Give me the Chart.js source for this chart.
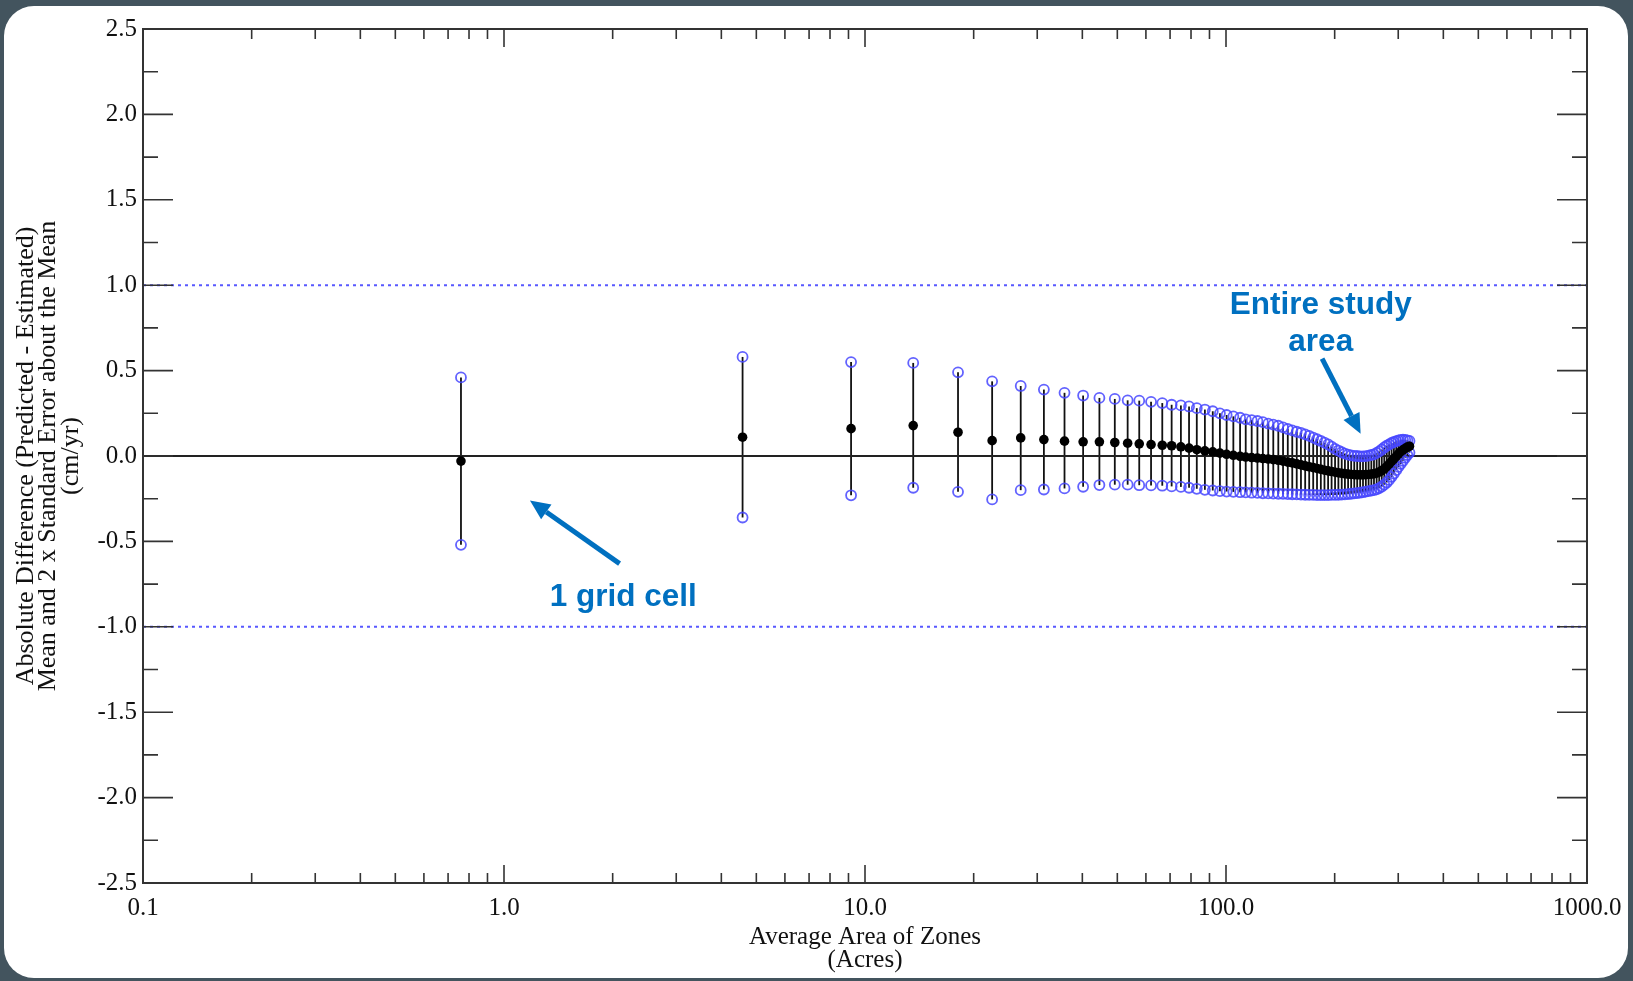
<!DOCTYPE html>
<html>
<head>
<meta charset="utf-8">
<script src="https://cdn.jsdelivr.net/npm/chart.js@4.4.1/dist/chart.umd.min.js"></script>
<style>
  html, body { margin: 0; padding: 0; width: 1633px; height: 981px; overflow: hidden; background: #43545e; }
  #card { position: absolute; left: 4px; top: 6px; width: 1624px; height: 972px; background: #fff; border-radius: 30px; }
  #chart { position: absolute; left: 0; top: 0; }
</style>
</head>
<body>
<div id="card"></div>
<canvas id="chart" width="1633" height="981"></canvas>
<script>
// average zone area (acres)
const areas = [
  0.76, 4.58, 9.15, 13.6, 18.1, 22.5, 27.0, 31.3, 35.7, 40.2,
  44.6, 49.2, 53.4, 57.5, 62.0, 66.6, 70.7, 75.0, 79.0, 83.0,
  87.4, 91.9, 96.2, 100.4, 104.8, 109.4, 113.4, 117.8, 122.2, 126.5,
  130.9, 135.2, 139.6, 143.9, 148.3, 152.6, 157.0, 161.3, 165.7, 170.0,
  174.4, 178.7, 183.1, 187.4, 191.8, 196.1, 200.5, 204.8, 209.2, 213.5,
  217.9, 222.2, 226.6, 230.9, 235.3, 239.6, 244.0, 248.3, 252.7, 257.0,
  261.4, 265.7, 270.1, 274.4, 278.8, 283.1, 287.5, 291.8, 296.2, 300.5,
  304.9, 309.2, 313.6, 317.9, 322.3
];
// mean absolute difference (cm/yr)
const meanDiff = [
  -0.03, 0.11, 0.16, 0.178, 0.139, 0.09, 0.106, 0.096, 0.087, 0.083,
  0.083, 0.079, 0.075, 0.071, 0.067, 0.063, 0.06, 0.054, 0.046, 0.037,
  0.03, 0.024, 0.017, 0.01, 0.004, -0.002, -0.006, -0.009, -0.012, -0.015,
  -0.018, -0.021, -0.025, -0.03, -0.036, -0.04, -0.046, -0.052, -0.058, -0.063,
  -0.068, -0.073, -0.078, -0.083, -0.087, -0.091, -0.095, -0.098, -0.101, -0.104,
  -0.106, -0.108, -0.109, -0.11, -0.11, -0.11, -0.109, -0.108, -0.106, -0.104,
  -0.1, -0.094, -0.085, -0.075, -0.062, -0.048, -0.032, -0.017, -0.002, 0.012,
  0.025, 0.036, 0.045, 0.052, 0.057
];
// mean + 2 x standard error
const upper2se = [
  0.46, 0.58, 0.55, 0.545, 0.49, 0.437, 0.41, 0.389, 0.37, 0.354,
  0.34, 0.334, 0.326, 0.324, 0.317, 0.31, 0.30, 0.296, 0.29, 0.28,
  0.272, 0.262, 0.25, 0.24, 0.232, 0.224, 0.215, 0.21, 0.205, 0.198,
  0.19, 0.184, 0.177, 0.168, 0.158, 0.15, 0.142, 0.135, 0.127, 0.118,
  0.108, 0.098, 0.088, 0.078, 0.068, 0.055, 0.042, 0.032, 0.022, 0.014,
  0.008, 0.004, 0.001, 0.0, -0.002, -0.002, -0.001, 0.002, 0.006, 0.01,
  0.018, 0.027, 0.038, 0.05, 0.06, 0.068, 0.076, 0.082, 0.087, 0.091,
  0.094, 0.095, 0.094, 0.092, 0.088
];
// mean - 2 x standard error
const lower2se = [
  -0.52, -0.36, -0.23, -0.186, -0.21, -0.254, -0.20, -0.196, -0.19, -0.18,
  -0.17, -0.168, -0.168, -0.171, -0.172, -0.174, -0.178, -0.181, -0.186, -0.192,
  -0.198, -0.202, -0.206, -0.208, -0.21, -0.212, -0.213, -0.215, -0.216, -0.218,
  -0.219, -0.22, -0.221, -0.222, -0.223, -0.224, -0.225, -0.226, -0.227, -0.228,
  -0.228, -0.229, -0.229, -0.229, -0.229, -0.228, -0.228, -0.227, -0.226, -0.225,
  -0.223, -0.221, -0.219, -0.217, -0.215, -0.212, -0.209, -0.206, -0.203, -0.2,
  -0.195, -0.188, -0.179, -0.168, -0.155, -0.14, -0.122, -0.103, -0.083, -0.064,
  -0.046, -0.028, -0.01, 0.006, 0.02
];

const xTickValues = [0.1, 1, 10, 100, 1000];
const xMinorTicks = [0.2, 0.3, 0.4, 0.5, 0.6, 0.7, 0.8, 0.9, 2, 3, 4, 5, 6, 7, 8, 9,
  20, 30, 40, 50, 60, 70, 80, 90, 200, 300, 400, 500, 600, 700, 800, 900];
const yTickValues = [-2.5, -2.0, -1.5, -1.0, -0.5, 0.0, 0.5, 1.0, 1.5, 2.0, 2.5];
const yMinorTicks = [-2.25, -1.75, -1.25, -0.75, -0.25, 0.25, 0.75, 1.25, 1.75, 2.25];
const refLevels = [1.0, -1.0];
const zeroLevel = 0.0;

const yTitle = ['Absolute Difference (Predicted - Estimated)', 'Mean and 2 x Standard Error about the Mean', '(cm/yr)'];
const xTitle = ['Average Area of Zones', '(Acres)'];

// annotations, anchored in data units
const notes = [
  { lines: ['1 grid cell'], x: 2.14, y: [-0.83], from: [2.09, -0.63], to: [1.18, -0.26] },
  { lines: ['Entire study', 'area'], x: 183, y: [0.885, 0.665], from: [184.6, 0.57], to: [236, 0.13] }
];

const serif = "'Liberation Serif', 'Times New Roman', serif";
const blue = 'rgba(70, 70, 255, 0.85)';

const pts = (ys) => areas.map((a, i) => ({ x: a, y: ys[i] }));
const hLine = (lv) => [{ x: xTickValues[0], y: lv }, { x: xTickValues[xTickValues.length - 1], y: lv }];

const errorBars = {
  id: 'errorBars',
  beforeDatasetsDraw(chart) {
    const { ctx, chartArea, scales: { x, y } } = chart;
    ctx.save();
    ctx.beginPath();
    ctx.rect(chartArea.left, chartArea.top, chartArea.right - chartArea.left, chartArea.bottom - chartArea.top);
    ctx.clip();
    ctx.strokeStyle = '#111';
    ctx.lineWidth = 1.8;
    areas.forEach((a, i) => {
      const px = x.getPixelForValue(a);
      ctx.beginPath();
      ctx.moveTo(px, y.getPixelForValue(lower2se[i]));
      ctx.lineTo(px, y.getPixelForValue(upper2se[i]));
      ctx.stroke();
    });
    ctx.restore();
  }
};

const frame = {
  id: 'frame',
  afterDraw(chart) {
    const { ctx, chartArea: { left, right, top, bottom }, scales: { x, y } } = chart;
    ctx.save();
    ctx.strokeStyle = '#333';
    ctx.lineWidth = 2;
    ctx.strokeRect(left, top, right - left, bottom - top);
    ctx.lineWidth = 1.6;
    ctx.beginPath();
    const yTick = (v, len) => {
      const py = y.getPixelForValue(v);
      ctx.moveTo(left, py); ctx.lineTo(left + len, py);
      ctx.moveTo(right, py); ctx.lineTo(right - len, py);
    };
    const xTick = (v, len) => {
      const px = x.getPixelForValue(v);
      ctx.moveTo(px, bottom); ctx.lineTo(px, bottom - len);
      ctx.moveTo(px, top); ctx.lineTo(px, top + len);
    };
    yTickValues.forEach(v => yTick(v, 30));
    yMinorTicks.forEach(v => yTick(v, 15));
    xTickValues.forEach(v => xTick(v, 18));
    xMinorTicks.forEach(v => xTick(v, 10));
    ctx.stroke();

    // axis titles
    ctx.fillStyle = '#111';
    ctx.font = '26px ' + serif;
    ctx.textAlign = 'center';
    ctx.textBaseline = 'middle';
    const cy = (top + bottom) / 2;
    yTitle.forEach((t, i) => {
      ctx.save();
      ctx.translate(26 + i * 22.5, cy);
      ctx.rotate(-Math.PI / 2);
      ctx.fillText(t, 0, 0);
      ctx.restore();
    });
    ctx.font = '25px ' + serif;
    const cx = (left + right) / 2;
    xTitle.forEach((t, i) => ctx.fillText(t, cx, 937 + i * 23));
    ctx.restore();
  }
};

const callouts = {
  id: 'callouts',
  afterDraw(chart) {
    const { ctx, scales: { x, y } } = chart;
    ctx.save();
    ctx.fillStyle = '#0070c0';
    ctx.strokeStyle = '#0070c0';
    ctx.font = "bold 31.5px 'Liberation Sans', Arial, sans-serif";
    ctx.textAlign = 'center';
    ctx.textBaseline = 'middle';
    notes.forEach(n => {
      const px = x.getPixelForValue(n.x);
      n.lines.forEach((t, i) => ctx.fillText(t, px, y.getPixelForValue(n.y[i])));
      const x1 = x.getPixelForValue(n.from[0]), y1 = y.getPixelForValue(n.from[1]);
      const x2 = x.getPixelForValue(n.to[0]), y2 = y.getPixelForValue(n.to[1]);
      const ang = Math.atan2(y2 - y1, x2 - x1);
      const head = 20, half = 9;
      const bx = x2 - head * Math.cos(ang), by = y2 - head * Math.sin(ang);
      ctx.lineWidth = 5;
      ctx.beginPath();
      ctx.moveTo(x1, y1);
      ctx.lineTo(bx, by);
      ctx.stroke();
      ctx.beginPath();
      ctx.moveTo(x2, y2);
      ctx.lineTo(bx + half * Math.sin(ang), by - half * Math.cos(ang));
      ctx.lineTo(bx - half * Math.sin(ang), by + half * Math.cos(ang));
      ctx.closePath();
      ctx.fill();
    });
    ctx.restore();
  }
};

new Chart(document.getElementById('chart').getContext('2d'), {
  type: 'scatter',
  data: {
    datasets: [
      {
        label: 'Mean',
        data: pts(meanDiff),
        pointStyle: 'circle',
        pointRadius: 4.8,
        pointBackgroundColor: '#000',
        pointBorderColor: '#000',
        pointBorderWidth: 0,
        order: 0
      },
      {
        label: '+2 SE',
        data: pts(upper2se),
        pointRadius: 5,
        pointBackgroundColor: 'rgba(0,0,0,0)',
        pointBorderColor: blue,
        pointBorderWidth: 1.8,
        order: 1
      },
      {
        label: '-2 SE',
        data: pts(lower2se),
        pointRadius: 5,
        pointBackgroundColor: 'rgba(0,0,0,0)',
        pointBorderColor: blue,
        pointBorderWidth: 1.8,
        order: 1
      },
      {
        type: 'line',
        label: 'zero',
        data: hLine(zeroLevel),
        borderColor: '#222',
        borderWidth: 2,
        pointRadius: 0,
        order: 3
      },
      ...refLevels.map(lv => ({
        type: 'line',
        label: 'ref ' + lv,
        data: hLine(lv),
        borderColor: 'rgba(70, 70, 255, 0.9)',
        borderWidth: 2,
        borderDash: [3, 4],
        pointRadius: 0,
        order: 3
      }))
    ]
  },
  options: {
    responsive: false,
    animation: false,
    layout: { padding: { left: 0, right: 46, top: 29, bottom: 0 } },
    plugins: { legend: { display: false }, tooltip: { enabled: false } },
    scales: {
      x: {
        type: 'logarithmic',
        position: 'bottom',
        min: 0.1,
        max: 1000,
        grid: { display: false, drawTicks: false },
        border: { display: false },
        afterBuildTicks: s => { s.ticks = xTickValues.map(v => ({ value: v })); },
        afterFit: s => { s.height = 98; },
        ticks: {
          autoSkip: false,
          maxRotation: 0,
          padding: 10,
          color: '#111',
          font: { family: serif, size: 25 },
          callback: v => Number(v).toFixed(1)
        }
      },
      y: {
        type: 'linear',
        min: -2.5,
        max: 2.5,
        grid: { display: false, drawTicks: false },
        border: { display: false },
        afterBuildTicks: s => { s.ticks = yTickValues.map(v => ({ value: v })); },
        afterFit: s => { s.width = 143; },
        ticks: {
          padding: 6,
          color: '#111',
          font: { family: serif, size: 25 },
          callback: v => Number(v).toFixed(1)
        }
      }
    }
  },
  plugins: [errorBars, frame, callouts]
});
</script>
</body>
</html>
